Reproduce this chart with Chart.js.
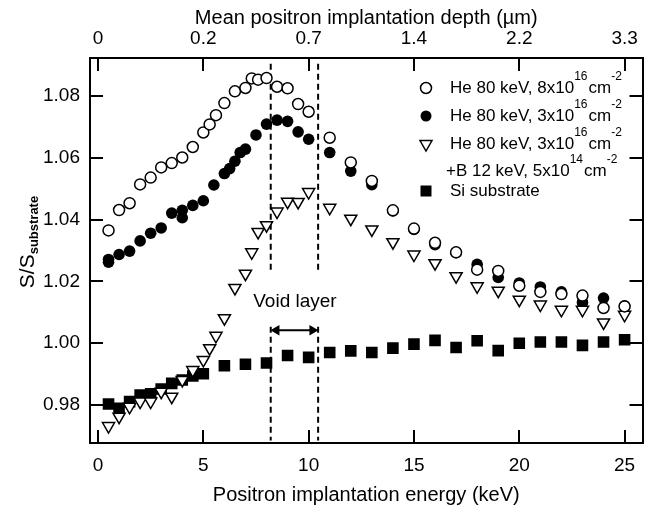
<!DOCTYPE html>
<html>
<head>
<meta charset="utf-8">
<script src="https://cdn.jsdelivr.net/npm/chart.js@4.4.0/dist/chart.umd.min.js"></script>
<style>
    html, body { margin: 0; padding: 0; background: #fff; }
    #wrap { width: 651px; height: 517px; }
</style>
</head>
<body>
<div id="wrap"><canvas id="sChart" width="651" height="517"></canvas></div>
<script>
// ==================== CHART DATA ====================
// He 80 keV, 8x10^16 cm^-2 (open circles)
const energyHe8 = [0.5, 1, 1.5, 2, 2.5, 3, 3.5, 4, 4.5, 5, 5.3, 5.6, 6, 6.5, 7, 7.3, 7.6, 8, 8.5, 9, 9.5, 10,
    11, 12, 13, 14, 15, 16, 17, 18, 19, 20, 21, 22, 23, 24, 25];
const sHe8 = [1.0365, 1.0431, 1.0453, 1.0514, 1.0536, 1.0569, 1.0583, 1.0601, 1.0635, 1.0682, 1.0708, 1.0738, 1.0777,
    1.0815, 1.0826, 1.0857, 1.0853, 1.0858, 1.0830, 1.0825, 1.0774, 1.0749,
    1.0665, 1.0585, 1.0525, 1.0430, 1.0371, 1.0325, 1.0294, 1.0238, 1.0234, 1.0186, 1.0166, 1.0159, 1.0154, 1.0114, 1.0119];

// He 80 keV, 3x10^16 cm^-2 (filled circles)
const energyHe3 = [0.5, 0.5, 1, 1.5, 2, 2.5, 3, 3.5, 4, 4, 4.5, 5, 5.5, 6, 6.25, 6.5, 6.75, 7, 7.5, 8, 8.5, 9, 9.5, 10,
    11, 12, 13, 14, 15, 16, 17, 18, 19, 20, 21, 22, 23, 24, 25];
const sHe3 = [1.0271, 1.0262, 1.0287, 1.0298, 1.0331, 1.0356, 1.0373, 1.0421, 1.0430, 1.0406, 1.0446, 1.0461, 1.0512,
    1.0549, 1.0565, 1.0589, 1.0617, 1.0628, 1.0674, 1.0709, 1.0722, 1.0718, 1.0684, 1.0660,
    1.0617, 1.0557, 1.0513, 1.0428, 1.0368, 1.0319, 1.0293, 1.0255, 1.0213, 1.0195, 1.0182, 1.0166, 1.0132, 1.0146, 1.0121];

// He 80 keV, 3x10^16 cm^-2 + B 12 keV, 5x10^14 cm^-2 (open triangles)
const energyHeB = [0.5, 1, 1.5, 2, 2.5, 3, 3.5, 4, 4.5, 5, 5.3, 5.6, 6, 6.5, 7, 7.3, 7.6, 8, 8.5, 9, 9.5, 10,
    11, 12, 13, 14, 15, 16, 17, 18, 19, 20, 21, 22, 23, 24, 25];
const sHeB = [0.9732, 0.9762, 0.9794, 0.9811, 0.9811, 0.9843, 0.9827, 0.9881, 0.9913, 0.9946, 0.9984, 1.0024, 1.0081,
    1.0179, 1.0225, 1.0294, 1.0360, 1.0382, 1.0426, 1.0458, 1.0457, 1.0489,
    1.0438, 1.0403, 1.0368, 1.0327, 1.0287, 1.0259, 1.0217, 1.0184, 1.0170, 1.0141, 1.0125, 1.0108, 1.0108, 1.0067, 1.0092];

// Si substrate (filled squares)
const energySi = [0.5, 1, 1.5, 2, 2.5, 3, 3.5, 4, 4.5, 5, 6, 7, 8, 9, 10,
    11, 12, 13, 14, 15, 16, 17, 18, 19, 20, 21, 22, 23, 24, 25];
const sSi = [0.9803, 0.9789, 0.9811, 0.9832, 0.9836, 0.9852, 0.9870, 0.9881, 0.9894, 0.9901, 0.9927, 0.9932, 0.9936,
    0.9960, 0.9954, 0.9970, 0.9975, 0.9970, 0.9984, 0.9997, 1.0009, 0.9986, 1.0008, 0.9976, 1.0000, 1.0004, 1.0004,
    0.9993, 1.0004, 1.0011];

// Void layer boundaries (keV) and the S levels of the dashed segments / arrow
const voidEdges = [8.2, 10.45];
const dashUpper = [1.0904, 1.0227];
const dashLower = [1.0053, 0.9685];
const arrowLevel = 1.0042;
const voidLabel = { text: 'Void layer', x: 9.35, y: 1.0133 };

// Axis ticks
const energyTicks = [0, 5, 10, 15, 20, 25];
const depthTickLabels = ['0', '0.2', '0.7', '1.4', '2.2', '3.3'];
const ratioTicks = [0.98, 1.00, 1.02, 1.04, 1.06, 1.08];
const X_MIN = -0.38, X_MAX = 25.85;
const Y_MIN = 0.9677, Y_MAX = 1.0923;

// Legend entries: [text, isSuperscript] pieces
const legendEntries = [
    { marker: 'open', parts: [['He 80 keV, 8x10', 0], ['16', 1], ['cm', 0], ['-2', 1]] },
    { marker: 'filled', parts: [['He 80 keV, 3x10', 0], ['16', 1], ['cm', 0], ['-2', 1]] },
    { marker: 'triangle', parts: [['He 80 keV, 3x10', 0], ['16', 1], ['cm', 0], ['-2', 1]] },
    { marker: null, parts: [['+B 12 keV, 5x10', 0], ['14', 1], ['cm', 0], ['-2', 1]] },
    { marker: 'square', parts: [['Si substrate', 0]] }
];

const FONT = "'Liberation Sans', Arial, Helvetica, sans-serif";
const TICK_LEN = 13;

// ==================== HELPERS ====================
const toPoints = (xs, ys) => xs.map((x, i) => ({ x, y: ys[i] }));

const dashedEdge = (x) => ({
    type: 'line',
    data: [
        { x, y: dashUpper[0] }, { x, y: dashUpper[1] }, { x, y: null },
        { x, y: dashLower[0] }, { x, y: dashLower[1] }
    ],
    showLine: true,
    spanGaps: false,
    borderColor: '#000',
    borderWidth: 2,
    borderDash: [6, 4],
    pointRadius: 0
});

const drawRich = (ctx, x, y, parts, size) => {
    let cx = x;
    parts.forEach(([txt, sup]) => {
        ctx.font = sup ? `${Math.round(size * 0.7)}px ${FONT}` : `${size}px ${FONT}`;
        ctx.fillText(txt, cx, sup ? y - 11 : y);
        cx += ctx.measureText(txt).width + (sup ? 1 : 0);
    });
};

const drawMarker = (ctx, kind, x, y) => {
    ctx.save();
    ctx.lineWidth = 1.5;
    ctx.strokeStyle = '#000';
    ctx.fillStyle = '#000';
    ctx.beginPath();
    if (kind === 'open') {
        ctx.arc(x, y, 5.5, 0, Math.PI * 2);
        ctx.fillStyle = '#fff';
        ctx.fill();
        ctx.stroke();
    } else if (kind === 'filled') {
        ctx.arc(x, y, 5.5, 0, Math.PI * 2);
        ctx.fill();
    } else if (kind === 'triangle') {
        ctx.moveTo(x - 6, y - 3.5);
        ctx.lineTo(x + 6, y - 3.5);
        ctx.lineTo(x, y + 7);
        ctx.closePath();
        ctx.stroke();
    } else if (kind === 'square') {
        ctx.rect(x - 5.5, y - 5.5, 11, 11);
        ctx.fill();
    }
    ctx.restore();
};

// ==================== DECORATION PLUGIN ====================
const decorations = {
    id: 'decorations',
    afterDraw(chart) {
        const { ctx, chartArea: a, scales } = chart;
        ctx.save();

        // inward ticks on all four sides
        ctx.strokeStyle = '#000';
        ctx.lineWidth = 2;
        ctx.beginPath();
        energyTicks.forEach(v => {
            const px = Math.round(scales.x.getPixelForValue(v));
            ctx.moveTo(px, a.bottom); ctx.lineTo(px, a.bottom - TICK_LEN);
            ctx.moveTo(px, a.top); ctx.lineTo(px, a.top + TICK_LEN);
        });
        ratioTicks.forEach(v => {
            const py = Math.round(scales.y.getPixelForValue(v));
            ctx.moveTo(a.left, py); ctx.lineTo(a.left + TICK_LEN, py);
            ctx.moveTo(a.right, py); ctx.lineTo(a.right - TICK_LEN, py);
        });
        ctx.stroke();

        // y axis title with subscript
        ctx.fillStyle = '#000';
        ctx.translate(34, 242);
        ctx.rotate(-Math.PI / 2);
        ctx.font = `21px ${FONT}`;
        const mainW = ctx.measureText('S/S').width;
        ctx.font = `bold 13px ${FONT}`;
        const subW = ctx.measureText('substrate').width;
        const start = -(mainW + subW) / 2;
        ctx.textBaseline = 'alphabetic';
        ctx.font = `21px ${FONT}`;
        ctx.fillText('S/S', start, 0);
        ctx.font = `bold 13px ${FONT}`;
        ctx.fillText('substrate', start + mainW, 4);
        ctx.setTransform(1, 0, 0, 1, 0, 0);

        // void layer label
        ctx.font = `19px ${FONT}`;
        ctx.textAlign = 'center';
        ctx.textBaseline = 'middle';
        ctx.fillText(voidLabel.text, scales.x.getPixelForValue(voidLabel.x), scales.y.getPixelForValue(voidLabel.y));

        // legend
        const rowY = [88, 116, 144, 171, 191];
        ctx.textAlign = 'left';
        ctx.textBaseline = 'middle';
        legendEntries.forEach((entry, i) => {
            if (entry.marker) drawMarker(ctx, entry.marker, 426, rowY[i]);
            drawRich(ctx, entry.marker ? 450 : 446, rowY[i], entry.parts, 17);
        });

        ctx.restore();
    }
};

// ==================== BUILD CHART ====================
const arrowHead = 0.27;

const chart = new Chart(document.getElementById('sChart').getContext('2d'), {
    type: 'scatter',
    data: {
        datasets: [
            {
                label: 'He 80 keV, 8x10^16',
                data: toPoints(energyHe8, sHe8),
                pointStyle: 'circle',
                pointRadius: 5.5,
                backgroundColor: '#fff',
                borderColor: '#000',
                borderWidth: 1.5
            },
            {
                label: 'He + B',
                data: toPoints(energyHeB, sHeB),
                pointStyle: 'triangle',
                pointRotation: 180,
                pointRadius: 7,
                backgroundColor: '#fff',
                borderColor: '#000',
                borderWidth: 1.5
            },
            {
                label: 'He 80 keV, 3x10^16',
                data: toPoints(energyHe3, sHe3),
                pointStyle: 'circle',
                pointRadius: 5.8,
                backgroundColor: '#000',
                borderColor: '#000',
                borderWidth: 0
            },
            {
                label: 'Si substrate',
                data: toPoints(energySi, sSi),
                pointStyle: 'rect',
                pointRadius: 8.2,
                backgroundColor: '#000',
                borderColor: '#000',
                borderWidth: 0
            },
            dashedEdge(voidEdges[0]),
            dashedEdge(voidEdges[1]),
            {
                type: 'line',
                data: [
                    { x: voidEdges[0] + arrowHead, y: arrowLevel },
                    { x: voidEdges[1] - arrowHead, y: arrowLevel }
                ],
                showLine: true,
                borderColor: '#000',
                borderWidth: 2,
                pointStyle: 'triangle',
                pointRadius: 6,
                pointRotation: [270, 90],
                pointBackgroundColor: '#000',
                pointBorderWidth: 0
            }
        ]
    },
    options: {
        responsive: false,
        animation: false,
        events: [],
        layout: { padding: 0 },
        plugins: {
            legend: { display: false },
            tooltip: { enabled: false }
        },
        scales: {
            x: {
                type: 'linear',
                position: 'bottom',
                min: X_MIN,
                max: X_MAX,
                afterBuildTicks: s => { s.ticks = energyTicks.map(v => ({ value: v })); },
                afterFit: s => { s.height = 74; },
                grid: { display: true, drawOnChartArea: false, drawTicks: false },
                border: { display: true, color: '#000', width: 2 },
                ticks: { color: '#000', font: { family: FONT, size: 19 }, padding: 11, maxRotation: 0, autoSkip: false },
                title: {
                    display: true,
                    text: 'Positron implantation energy (keV)',
                    color: '#000',
                    font: { family: FONT, size: 20 },
                    padding: { top: 0, bottom: 10 }
                }
            },
            x2: {
                type: 'linear',
                position: 'top',
                min: X_MIN,
                max: X_MAX,
                afterBuildTicks: s => { s.ticks = energyTicks.map(v => ({ value: v })); },
                afterFit: s => { s.height = 58; },
                grid: { display: true, drawOnChartArea: false, drawTicks: false },
                border: { display: true, color: '#000', width: 2 },
                ticks: {
                    color: '#000',
                    font: { family: FONT, size: 19 },
                    padding: 8,
                    maxRotation: 0,
                    autoSkip: false,
                    callback: (v, i) => depthTickLabels[i]
                },
                title: {
                    display: true,
                    text: 'Mean positron implantation depth (\u00b5m)',
                    color: '#000',
                    font: { family: FONT, size: 20 },
                    padding: { top: 6, bottom: 0 }
                }
            },
            y: {
                type: 'linear',
                position: 'left',
                min: Y_MIN,
                max: Y_MAX,
                afterBuildTicks: s => { s.ticks = ratioTicks.map(v => ({ value: v })); },
                afterFit: s => { s.width = 90; },
                grid: { display: true, drawOnChartArea: false, drawTicks: false },
                border: { display: true, color: '#000', width: 2 },
                ticks: {
                    color: '#000',
                    font: { family: FONT, size: 19 },
                    padding: 10,
                    callback: v => v.toFixed(2)
                }
            },
            y2: {
                type: 'linear',
                position: 'right',
                min: Y_MIN,
                max: Y_MAX,
                afterFit: s => { s.width = 5; },
                grid: { display: true, drawOnChartArea: false, drawTicks: false },
                border: { display: true, color: '#000', width: 2 },
                ticks: { display: false }
            }
        }
    },
    plugins: [decorations]
});
</script>
</body>
</html>
